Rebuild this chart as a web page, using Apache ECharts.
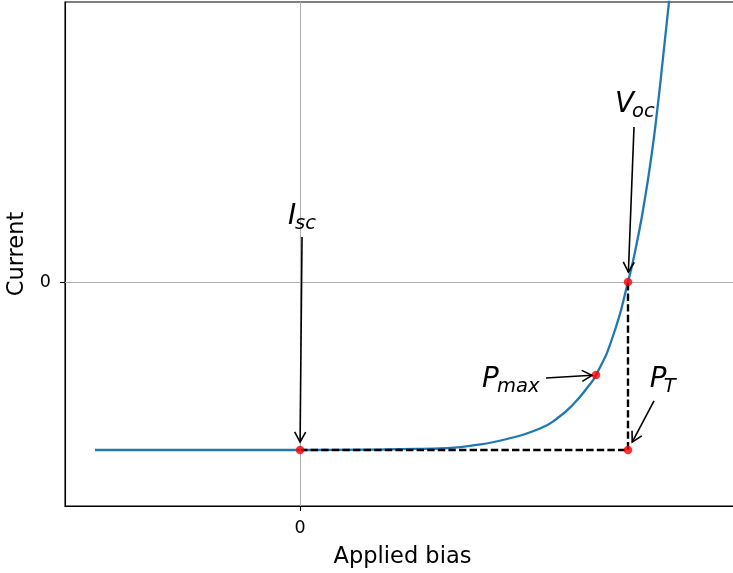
<!DOCTYPE html>
<html>
<head>
<meta charset="utf-8">
<script src="https://cdn.jsdelivr.net/npm/echarts@6/dist/echarts.min.js"></script>
<style>
  html, body { margin: 0; padding: 0; background: #fff; }
  #chart { width: 733px; height: 573px; }
</style>
</head>
<body>
<div id="chart"></div>
<script>
// Solar-cell I–V curve: bias in volts, current normalised to the short-circuit current
const biasV = [-0.375, -0.2, 0, 0.128, 0.183, 0.256, 0.3165, 0.3787, 0.439, 0.4701, 0.4994,
  0.525, 0.5427, 0.5726, 0.6, 0.6165, 0.6311, 0.6439, 0.6531, 0.664, 0.6756];
const currentI = [-1, -1, -1, -0.998, -0.995, -0.991, -0.973, -0.9345, -0.872, -0.8125, -0.729,
  -0.631, -0.5476, -0.3214, 0, 0.238, 0.500, 0.774, 1.012, 1.333, 1.685];

// Marked operating points: short circuit, max power, open circuit, theoretical corner
const pointNames = ['Isc', 'Pmax', 'Voc', 'PT'];
const pointV = [0, 0.5415, 0.6, 0.6];
const pointI = [-1, -0.554, 0, -1];

// Dashed rectangle edge from Isc across to Voc
const guideV = [0, 0.6, 0.6];
const guideI = [-1, -1, 0];

// Only the zero tick is labelled on each axis
const xTicks = [0];
const yTicks = [0];

const FONT = 'DejaVu Sans';
const zip = (a, b) => a.map((v, i) => [v, b[i]]);

const chart = echarts.init(document.getElementById('chart'), null, { renderer: 'canvas' });

const axisCommon = {
  type: 'value',
  axisLine: { show: true, onZero: false, lineStyle: { color: '#000', width: 1.1 } },
  axisTick: { show: true, inside: false, length: 5, lineStyle: { color: '#000', width: 1.1 } },
  splitLine: { show: false },
  nameLocation: 'middle',
  nameTextStyle: { fontFamily: FONT, fontSize: 22.5, color: '#000' }
};

chart.setOption({
  animation: false,
  backgroundColor: '#fff',
  grid: {
    left: 65, top: 2, width: 675, height: 504,
    show: true, borderColor: '#000', borderWidth: 1.1, backgroundColor: 'transparent',
    outerBoundsMode: 'none'
  },
  xAxis: Object.assign({}, axisCommon, {
    min: -0.4299, max: 0.8049,
    name: 'Applied bias', nameGap: 40,
    axisTick: Object.assign({}, axisCommon.axisTick, { customValues: xTicks }),
    axisLabel: { customValues: xTicks, fontFamily: FONT, fontSize: 17.5, color: '#000', margin: 13,
      formatter: v => String(v) }
  }),
  yAxis: Object.assign({}, axisCommon, {
    min: -1.3333, max: 1.6667,
    name: 'Current', nameGap: 36,
    axisTick: Object.assign({}, axisCommon.axisTick, { customValues: yTicks }),
    axisLabel: { customValues: yTicks, fontFamily: FONT, fontSize: 17.5, color: '#000', margin: 14,
      formatter: v => String(v) }
  }),
  series: [
    {
      // grid lines through the origin
      type: 'line', data: [], z: 1, silent: true,
      markLine: {
        silent: true, symbol: 'none', animation: false, label: { show: false },
        lineStyle: { color: '#b0b0b0', width: 1.1, type: 'solid' },
        data: [{ xAxis: xTicks[0] }, { yAxis: yTicks[0] }]
      }
    },
    {
      name: 'I-V', type: 'line', data: zip(biasV, currentI), z: 3,
      showSymbol: false, smooth: 0.55, clip: true,
      lineStyle: { color: '#1f77b4', width: 2.3 }
    },
    {
      name: 'guide', type: 'line', data: zip(guideV, guideI), z: 4,
      showSymbol: false,
      lineStyle: { color: '#000', width: 2.4, type: [7.4, 3.2] }
    },
    {
      name: 'points', type: 'scatter', data: zip(pointV, pointI), z: 5,
      symbol: 'circle', symbolSize: 8.5,
      itemStyle: { color: '#ff0000' }
    }
  ]
});

// Annotation labels (math-style italic symbol with subscript) and arrows
const notes = [
  { main: 'V', sub: 'oc',  at: [0.5762, 1.006],  subDx: 17, tail: [0.611, 0.923],   target: 2, shrink: 10 },
  { main: 'I', sub: 'sc',  at: [-0.022, 0.339],  subDx: 7,  tail: [0.0037, 0.268],  target: 0, shrink: 8 },
  { main: 'P', sub: 'max', at: [0.333, -0.631],  subDx: 15, tail: [0.45, -0.571],   target: 1, shrink: 4 },
  { main: 'P', sub: 'T',   at: [0.640, -0.631],  subDx: 14, tail: [0.6476, -0.708], target: 3, shrink: 9 }
];

const MAIN_FS = 27.8, SUB_FS = 19.5;
const toPx = p => chart.convertToPixel({ gridIndex: 0 }, p);

function textEl(str, x, baseline, fs) {
  return {
    type: 'text', x: x, y: baseline - 0.28 * fs, z: 10,
    style: {
      text: str, fill: '#000', fontFamily: FONT, fontSize: fs, fontStyle: 'italic',
      align: 'left', verticalAlign: 'middle', textAlign: 'left', textVerticalAlign: 'middle'
    }
  };
}

function arrowEls(tail, head) {
  const dx = head[0] - tail[0], dy = head[1] - tail[1];
  const L = Math.hypot(dx, dy), ux = dx / L, uy = dy / L;
  const hl = 10, hw = 5.5;
  const bx = head[0] - ux * hl, by = head[1] - uy * hl;
  const stroke = { stroke: '#000', lineWidth: 1.6, fill: null };
  return [
    { type: 'line', z: 10, shape: { x1: tail[0], y1: tail[1], x2: head[0], y2: head[1] }, style: stroke },
    { type: 'polyline', z: 10,
      shape: { points: [[bx - uy * hw, by + ux * hw], head, [bx + uy * hw, by - ux * hw]] },
      style: stroke }
  ];
}

const elements = [];
notes.forEach(n => {
  const a = toPx(n.at);
  elements.push(textEl(n.main, a[0], a[1], MAIN_FS));
  elements.push(textEl(n.sub, a[0] + n.subDx, a[1] + 4, SUB_FS));
  const tail = toPx(n.tail);
  const pt = toPx([pointV[n.target], pointI[n.target]]);
  const dx = pt[0] - tail[0], dy = pt[1] - tail[1], L = Math.hypot(dx, dy);
  const head = [pt[0] - dx / L * n.shrink, pt[1] - dy / L * n.shrink];
  elements.push(...arrowEls(tail, head));
});

chart.setOption({ graphic: { elements: elements } });
</script>
</body>
</html>
